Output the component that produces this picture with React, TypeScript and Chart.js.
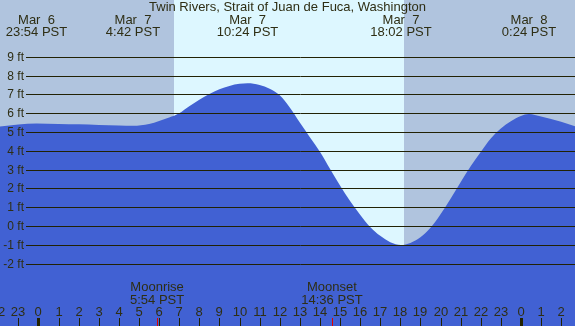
import React, { useEffect, useRef } from "react";
import { Chart, registerables } from "chart.js";

Chart.register(...registerables);

const TITLE = "Twin Rivers, Strait of Juan de Fuca, Washington";

// Tide height (ft), hours from Mar 7 00:00 PST
const tideHours = [-2, -1, -0.1, 1, 2, 3, 4, 4.7, 5.5, 6, 6.5, 7, 7.5, 8, 8.5, 9, 9.5, 10, 10.4, 11, 11.5, 12, 12.5, 13, 13.5, 14, 14.5, 15, 15.5, 16, 16.5, 17, 17.5, 18.03, 18.5, 19, 19.5, 20, 20.5, 21, 21.5, 22, 22.5, 23, 23.5, 24, 24.4, 25, 26, 27];
const tideFeet = [5.28, 5.4, 5.45, 5.43, 5.41, 5.37, 5.34, 5.33, 5.43, 5.59, 5.77, 6.0, 6.37, 6.72, 7.02, 7.27, 7.45, 7.56, 7.59, 7.5, 7.3, 6.95, 6.3, 5.5, 4.72, 3.95, 3.05, 2.15, 1.33, 0.6, -0.05, -0.52, -0.86, -1.01, -0.9, -0.6, -0.1, 0.62, 1.45, 2.33, 3.18, 3.93, 4.65, 5.18, 5.57, 5.85, 5.95, 5.82, 5.55, 5.2];

// High / low tide labels
const extremeHours = [-0.1, 4.7, 10.4, 18.033, 24.4];
const extremeDates = ["Mar  6", "Mar  7", "Mar  7", "Mar  7", "Mar  8"];
const extremeTimes = ["23:54 PST", "4:42 PST", "10:24 PST", "18:02 PST", "0:24 PST"];

// Moon events
const moonHours = [5.9, 14.6];
const moonNames = ["Moonrise", "Moonset"];
const moonTimes = ["5:54 PST", "14:36 PST"];

// Daylight
const sunriseHour = 6.74;
const sunsetHour = 18.18;

// Axis
const yTickFeet = [9, 8, 7, 6, 5, 4, 3, 2, 1, 0, -1, -2];
const hourTicks = [-2, -1, 0, 1, 2, 3, 4, 5, 6, 7, 8, 9, 10, 11, 12, 13, 14, 15, 16, 17, 18, 19, 20, 21, 22, 23, 24, 25, 26];
const X_MIN = -1.915;
const X_MAX = 26.69;
const Y_MIN = -5.32;
const Y_MAX = 12.02;

const FONT = "13px 'Liberation Sans', Arial, sans-serif";
const FONT_SMALL = "12px 'Liberation Sans', Arial, sans-serif";
const TEXT = "#2e2e14";
const GRID = "#222204";
const NIGHT = "#b0c4de";
const DAY = "#ddf7ff";
const WATER = "#4161d3";

const decorPlugin = {
  id: "tideDecor",
  beforeDatasetsDraw(chart: any) {
    const { ctx, chartArea, scales } = chart;
    const x = scales.x;
    ctx.save();
    ctx.fillStyle = NIGHT;
    ctx.fillRect(chartArea.left, chartArea.top, chartArea.right - chartArea.left, chartArea.bottom - chartArea.top);
    const a = x.getPixelForValue(sunriseHour);
    const b = x.getPixelForValue(sunsetHour);
    ctx.fillStyle = DAY;
    ctx.fillRect(Math.round(a), chartArea.top, Math.round(b) - Math.round(a), chartArea.bottom - chartArea.top);
    ctx.restore();
  },
  afterDatasetsDraw(chart: any) {
    const { ctx, chartArea, scales } = chart;
    const x = scales.x;
    const y = scales.y;
    ctx.save();
    // grid lines and y labels
    ctx.strokeStyle = GRID;
    ctx.lineWidth = 1;
    ctx.font = FONT_SMALL;
    ctx.fillStyle = TEXT;
    ctx.textAlign = "right";
    ctx.textBaseline = "middle";
    yTickFeet.forEach((f) => {
      const py = Math.round(y.getPixelForValue(f)) + 0.5;
      ctx.beginPath();
      ctx.moveTo(26, py);
      ctx.lineTo(chartArea.right, py);
      ctx.stroke();
      ctx.fillText(`${f} ft`, 24, py);
    });
    // title
    ctx.font = FONT;
    ctx.textAlign = "center";
    ctx.textBaseline = "alphabetic";
    ctx.fillText(TITLE, (chartArea.left + chartArea.right) / 2, 11);
    // tide extremes
    extremeHours.forEach((h, i) => {
      const px = x.getPixelForValue(h);
      ctx.fillText(extremeDates[i], px, 23.5);
      ctx.fillText(extremeTimes[i], px, 36);
    });
    // moon
    moonHours.forEach((h, i) => {
      const px = x.getPixelForValue(h);
      ctx.fillText(moonNames[i], px, 291);
      ctx.fillText(moonTimes[i], px, 303.5);
    });
    // hour labels & ticks
    hourTicks.forEach((h) => {
      const px = Math.round(x.getPixelForValue(h));
      const lab = ((h % 24) + 24) % 24;
      ctx.fillStyle = TEXT;
      ctx.fillText(String(lab), px, 316);
      if (lab === 0) {
        ctx.fillStyle = "#222200";
        ctx.fillRect(px - 1, 318, 3, 8);
      } else {
        ctx.fillStyle = GRID;
        ctx.fillRect(px, 318, 1, 8);
      }
    });
    moonHours.forEach((h) => {
      const px = Math.round(x.getPixelForValue(h));
      ctx.fillStyle = "#e00000";
      ctx.fillRect(px, 318, 1, 8);
    });
    ctx.restore();
  },
};

export default function App() {
  const ref = useRef<HTMLCanvasElement | null>(null);
  useEffect(() => {
    if (!ref.current) return;
    const chart = new Chart(ref.current, {
      type: "line",
      data: {
        datasets: [
          {
            data: tideHours.map((h, i) => ({ x: h, y: tideFeet[i] })),
            fill: "start",
            backgroundColor: WATER,
            borderColor: "rgba(0,0,0,0)",
            borderWidth: 1,
            pointRadius: 0,
            cubicInterpolationMode: "monotone",
          },
        ],
      },
      options: {
        animation: false,
        responsive: false,
        devicePixelRatio: 1,
        layout: { padding: 0, autoPadding: false },
        plugins: { legend: { display: false }, tooltip: { enabled: false }, title: { display: false } },
        scales: {
          x: { type: "linear", min: X_MIN, max: X_MAX, display: false },
          y: { type: "linear", min: Y_MIN, max: Y_MAX, display: false },
        },
      },
      plugins: [decorPlugin],
    } as any);
    return () => chart.destroy();
  }, []);
  return (
    <canvas
      ref={ref}
      width={575}
      height={326}
      style={{ position: "absolute", left: 0, top: 0, width: 575, height: 326 }}
    />
  );
}
